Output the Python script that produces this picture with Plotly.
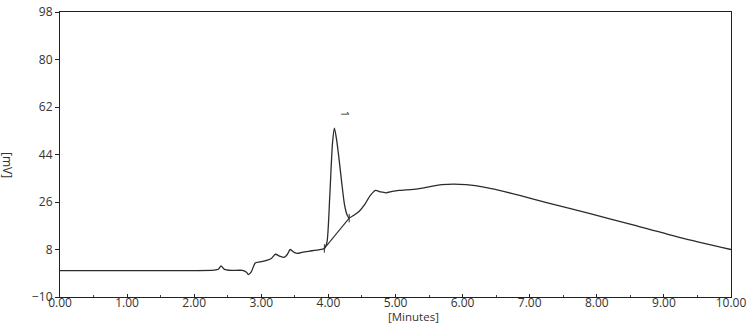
import plotly.graph_objects as go

# Chromatogram trace (minutes, mV)
time_min = [0.0, 2.30, 2.36, 2.40, 2.45, 2.55, 2.72, 2.78, 2.81, 2.85, 2.91, 2.98,
            3.09, 3.15, 3.21, 3.28, 3.34, 3.39, 3.43, 3.49, 3.54, 3.62, 3.72, 3.85,
            3.94, 3.98, 4.02, 4.06, 4.09, 4.12, 4.16, 4.20, 4.24, 4.28, 4.31, 4.38,
            4.46, 4.54, 4.62, 4.70, 4.78, 4.86, 4.95, 5.05, 5.33, 5.69, 6.05, 6.43,
            6.85, 7.28, 7.90, 8.51, 9.26, 10.0]
signal_mv = [0.0, 0.2, 0.5, 1.8, 0.5, 0.1, 0.1, -0.6, -1.5, -0.5, 2.9, 3.3,
             4.0, 4.6, 6.2, 5.4, 5.0, 6.2, 8.0, 6.9, 6.5, 7.0, 7.4, 7.9,
             8.4, 11.0, 28.0, 48.0, 54.0, 50.0, 42.0, 33.0, 25.0, 21.0, 20.0, 21.0,
             22.5, 25.0, 28.3, 30.4, 29.8, 29.5, 30.0, 30.4, 31.0, 32.6, 32.6, 31.1,
             28.5, 25.6, 21.6, 17.5, 12.4, 8.0]

# Integration baseline of peak 1
baseline_time = [3.94, 4.31]
baseline_mv = [8.4, 19.9]

peak_labels = ["1"]
peak_label_time = [4.25]
peak_label_mv = [59.4]

y_ticks = [-10, 8, 26, 44, 62, 80, 98]
x_ticks = [0, 1, 2, 3, 4, 5, 6, 7, 8, 9, 10]
x_tick_text = [f"{v:.2f}" for v in x_ticks]

line_col = "#2b2b2b"
fig = go.Figure()
fig.add_trace(go.Scatter(x=time_min, y=signal_mv, mode="lines",
                         line=dict(color=line_col, width=1.3, shape="spline", smoothing=0.6),
                         showlegend=False, hoverinfo="skip"))
fig.add_trace(go.Scatter(x=baseline_time, y=baseline_mv, mode="lines+markers",
                         line=dict(color=line_col, width=1.1),
                         marker=dict(symbol="line-ns-open", size=6, color=line_col,
                                     line=dict(width=1, color=line_col)),
                         showlegend=False, hoverinfo="skip"))

for lab, t, v in zip(peak_labels, peak_label_time, peak_label_mv):
    fig.add_annotation(x=t, y=v, text=lab, showarrow=False, textangle=90,
                       font=dict(size=11, color="#222"))

fig.add_annotation(xref="paper", yref="paper", x=(415 - 60) / 673, y=-(317 - 297) / 294,
                   text="[Minutes]", showarrow=False, yanchor="middle", xanchor="center",
                   borderpad=0, font=dict(size=11.5, color="#333"))
fig.add_annotation(xref="paper", yref="paper", x=(8 - 60) / 673, y=(297 - 161) / 294,
                   text="[mV]", showarrow=False, textangle=90, xanchor="center",
                   yanchor="middle", font=dict(size=12, color="#333"))

fig.update_layout(
    width=749, height=323,
    margin=dict(l=60, r=16, t=3, b=26),
    paper_bgcolor="white", plot_bgcolor="white",
    font=dict(family="Open Sans, DejaVu Sans, sans-serif", size=12, color="#333"),
    xaxis=dict(range=[0, 10], tickvals=x_ticks, ticktext=x_tick_text,
               showgrid=False, zeroline=False, showline=True, linecolor="#222",
               linewidth=1.2, mirror=True, ticks="inside", ticklen=3,
               tickcolor="#222", tickfont=dict(size=12, color="#333"),
               ticklabelstandoff=-6, ticklabeloverflow="allow",
               minor=dict(dtick=0.5, ticks="inside", ticklen=2, tickcolor="#444")),
    yaxis=dict(range=[-10, 98.02], tickvals=y_ticks,
               showgrid=False, zeroline=False, showline=True, linecolor="#222",
               linewidth=1.2, mirror=True, ticks="outside", ticklen=4,
               tickcolor="#222", tickfont=dict(size=12, color="#333"),
               ticklabeloverflow="allow"),
)

fig.write_html("out.html", config={"displayModeBar": False},
               post_script="document.body.style.margin='0';")
